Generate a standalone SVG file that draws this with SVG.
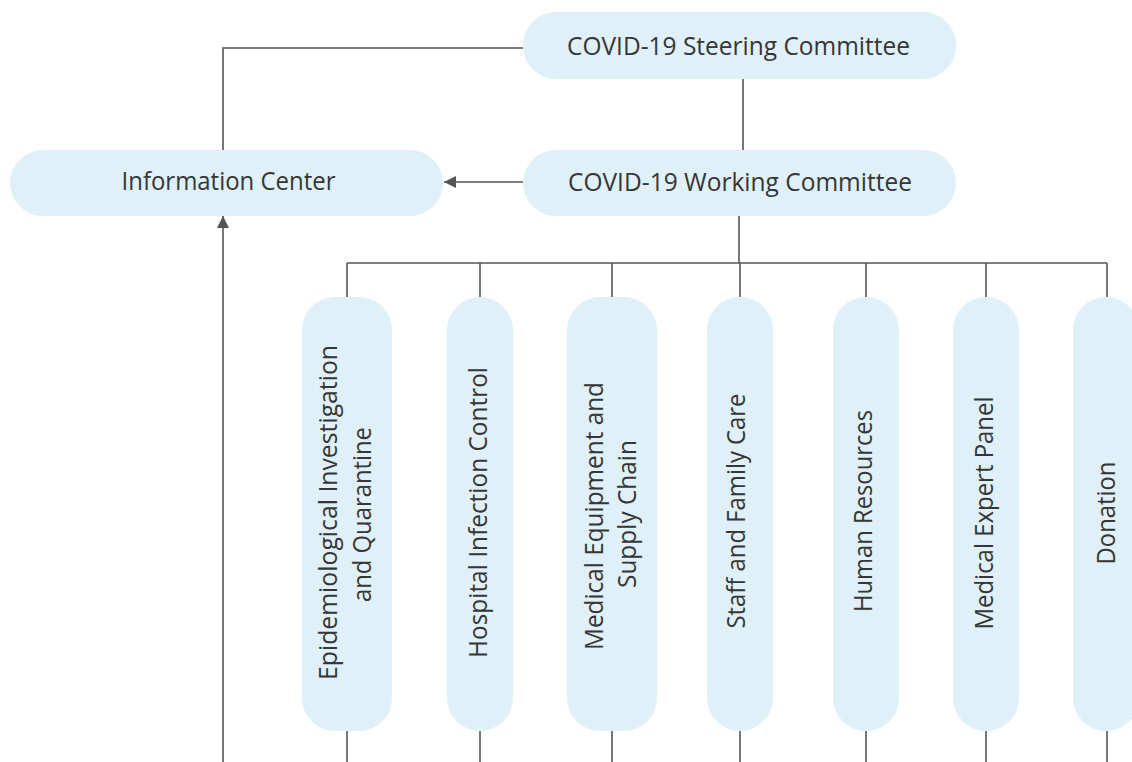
<svg xmlns="http://www.w3.org/2000/svg" width="1132" height="762" viewBox="0 0 1132 762">
  <defs>
    <style>
      .box { fill: #dff0f8; }
      .lbl { font-family: "Open Sans", "Noto Sans", "Liberation Sans", sans-serif; font-size: 26px; fill: #363636; text-anchor: middle; }
      .ln { stroke: #555555; stroke-width: 1.6; fill: none; }
    </style>
    <marker id="arr" viewBox="0 0 12 12" refX="12" refY="6" markerWidth="12" markerHeight="12" markerUnits="userSpaceOnUse" orient="auto">
      <path d="M0,0 L12,6 L0,12 Z" fill="#555555"/>
    </marker>
  </defs>
  <rect width="1132" height="762" fill="#ffffff"/>

  <g id="connectors">
    <polyline class="ln" points="523,48 223,48 223,150"/>
    <line class="ln" x1="743" y1="79" x2="743" y2="150"/>
    <line class="ln" x1="523" y1="182" x2="444" y2="182" marker-end="url(#arr)"/>
    <line class="ln" x1="223" y1="762" x2="223" y2="216" marker-end="url(#arr)"/>
    <line class="ln" x1="739" y1="216" x2="739" y2="263"/>
    <line class="ln" x1="347" y1="263" x2="1107" y2="263"/>
    <line class="ln" x1="347" y1="263" x2="347" y2="297"/>
    <line class="ln" x1="480" y1="263" x2="480" y2="297"/>
    <line class="ln" x1="612" y1="263" x2="612" y2="297"/>
    <line class="ln" x1="740" y1="263" x2="740" y2="297"/>
    <line class="ln" x1="866" y1="263" x2="866" y2="297"/>
    <line class="ln" x1="986" y1="263" x2="986" y2="297"/>
    <line class="ln" x1="1107" y1="263" x2="1107" y2="297"/>
    <line class="ln" x1="347" y1="731" x2="347" y2="762"/>
    <line class="ln" x1="480" y1="731" x2="480" y2="762"/>
    <line class="ln" x1="612" y1="731" x2="612" y2="762"/>
    <line class="ln" x1="740" y1="731" x2="740" y2="762"/>
    <line class="ln" x1="866" y1="731" x2="866" y2="762"/>
    <line class="ln" x1="986" y1="731" x2="986" y2="762"/>
    <line class="ln" x1="1107" y1="731" x2="1107" y2="762"/>
  </g>

  <g id="steering">
    <rect class="box" x="523" y="12" width="433" height="67" rx="33" ry="33"/>
    <text class="lbl" x="738.5" y="54.5" textLength="343" lengthAdjust="spacingAndGlyphs">COVID-19 Steering Committee</text>
  </g>
  <g id="working">
    <rect class="box" x="523" y="150" width="433" height="66" rx="33" ry="33"/>
    <text class="lbl" x="740" y="190.5" textLength="344" lengthAdjust="spacingAndGlyphs">COVID-19 Working Committee</text>
  </g>
  <g id="info">
    <rect class="box" x="10" y="150" width="433" height="66" rx="33" ry="33"/>
    <text class="lbl" x="228.5" y="190" textLength="214" lengthAdjust="spacingAndGlyphs">Information Center</text>
  </g>

  <g id="epi">
    <rect class="box" x="302" y="297" width="90" height="434" rx="33" ry="33"/>
    <text class="lbl" transform="translate(337,512.5) rotate(-90)" textLength="335" lengthAdjust="spacingAndGlyphs">Epidemiological Investigation</text>
    <text class="lbl" transform="translate(370.5,514.5) rotate(-90)" textLength="175" lengthAdjust="spacingAndGlyphs">and Quarantine</text>
  </g>
  <g id="hospital">
    <rect class="box" x="447" y="297" width="66" height="434" rx="33" ry="33"/>
    <text class="lbl" transform="translate(487,512.5) rotate(-90)" textLength="291" lengthAdjust="spacingAndGlyphs">Hospital Infection Control</text>
  </g>
  <g id="equipment">
    <rect class="box" x="567" y="297" width="90" height="434" rx="33" ry="33"/>
    <text class="lbl" transform="translate(602.5,516) rotate(-90)" textLength="268" lengthAdjust="spacingAndGlyphs">Medical Equipment and</text>
    <text class="lbl" transform="translate(636,514) rotate(-90)" textLength="148" lengthAdjust="spacingAndGlyphs">Supply Chain</text>
  </g>
  <g id="staff">
    <rect class="box" x="707" y="297" width="66" height="434" rx="33" ry="33"/>
    <text class="lbl" transform="translate(745,511) rotate(-90)" textLength="235" lengthAdjust="spacingAndGlyphs">Staff and Family Care</text>
  </g>
  <g id="hr">
    <rect class="box" x="833" y="297" width="66" height="434" rx="33" ry="33"/>
    <text class="lbl" transform="translate(871.5,511) rotate(-90)" textLength="202" lengthAdjust="spacingAndGlyphs">Human Resources</text>
  </g>
  <g id="expert">
    <rect class="box" x="953" y="297" width="66" height="434" rx="33" ry="33"/>
    <text class="lbl" transform="translate(993,513) rotate(-90)" textLength="233" lengthAdjust="spacingAndGlyphs">Medical Expert Panel</text>
  </g>
  <g id="donation">
    <rect class="box" x="1073" y="297" width="66" height="434" rx="33" ry="33"/>
    <text class="lbl" transform="translate(1115,513) rotate(-90)" textLength="103" lengthAdjust="spacingAndGlyphs">Donation</text>
  </g>
</svg>
